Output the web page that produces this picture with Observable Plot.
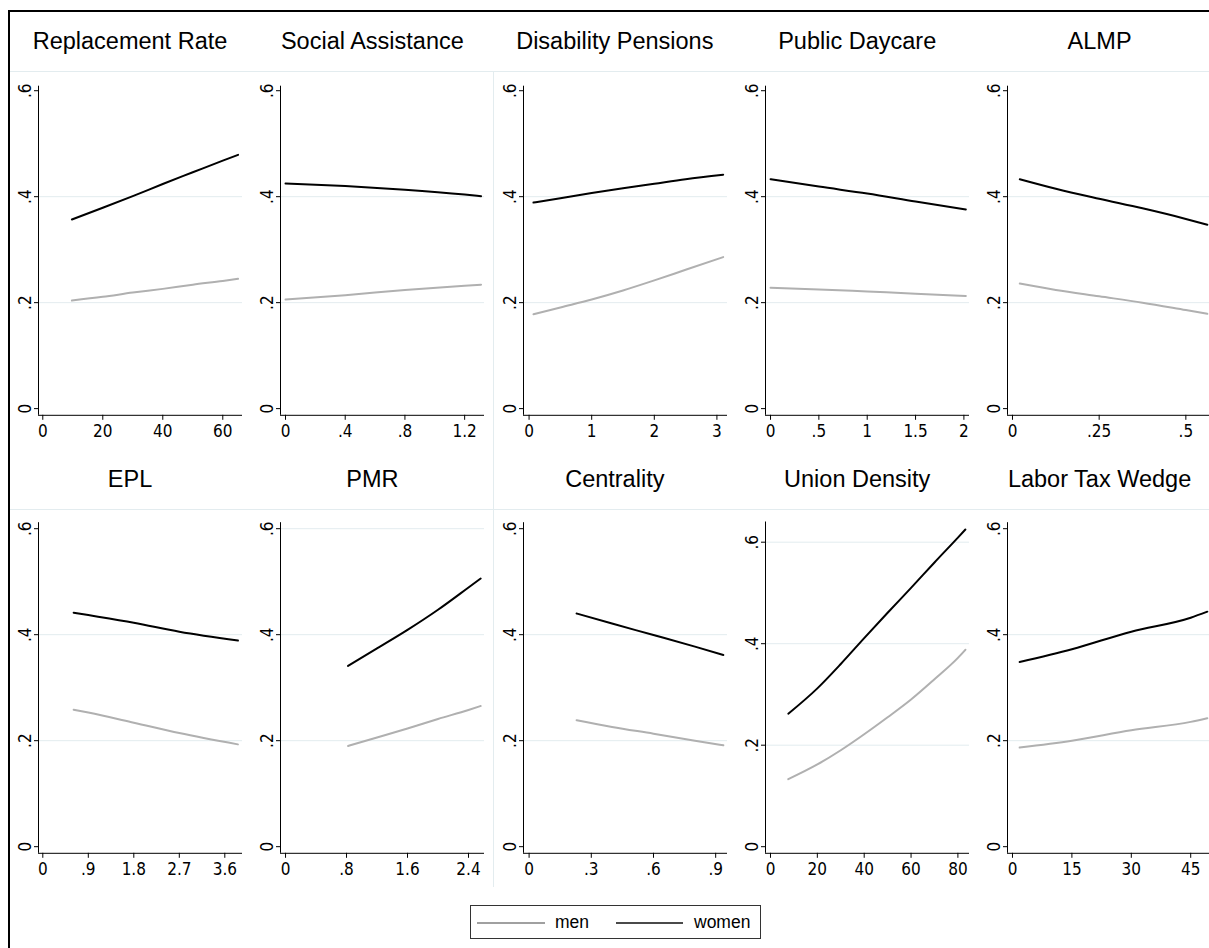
<!DOCTYPE html>
<html><head><meta charset="utf-8">
<script src="https://cdn.jsdelivr.net/npm/d3@7"></script>
<script src="https://cdn.jsdelivr.net/npm/@observablehq/plot@0.6"></script>
<style>
html,body{margin:0;padding:0;background:#fff;}
body{width:1209px;height:948px;overflow:hidden;position:relative;font-family:"Liberation Sans",Arial,sans-serif;}
#frame{position:absolute;left:8px;top:10px;width:1260px;height:1000px;border:2px solid #000;box-sizing:border-box;}
.cell{position:absolute;width:242.4px;height:437px;}
.title{position:absolute;left:0;top:0;width:100%;height:59px;line-height:59px;text-align:center;font-size:23.5px;color:#000;white-space:nowrap;}
.cell svg{position:absolute;left:0;top:60px;}
.hline{position:absolute;left:10px;width:1199px;height:1px;background:#e3ecef;}
.vline{position:absolute;width:1px;background:#e3ecef;}
#legend{position:absolute;left:470px;top:905px;width:291px;height:34px;border:1px solid #333;box-sizing:border-box;background:#fff;}
#legend .sw{position:absolute;height:2px;top:16px;}
#legend .lt{position:absolute;top:0;line-height:32px;font-size:17.5px;color:#000;}
</style>
</head><body>
<div id="frame"></div>
<div id="root"></div>
<div id="legend">
  <div class="sw" style="left:6px;width:68px;background:#a0a0a0"></div>
  <span class="lt" style="left:84px">men</span>
  <div class="sw" style="left:145px;width:67px;background:#4a4a4a"></div>
  <span class="lt" style="left:223px">women</span>
</div>
<script>
// ---- panel titles ----
const panelTitles = ["Replacement Rate", "Social Assistance", "Disability Pensions", "Public Daycare", "ALMP",
                     "EPL", "PMR", "Centrality", "Union Density", "Labor Tax Wedge"];
const seriesNames = ["men", "women"];

// ---- series values (x, women, men) ----
const rrX      = [9.7, 20, 30, 40, 50, 60, 65.1];
const rrWomen  = [0.357, 0.379, 0.401, 0.424, 0.446, 0.468, 0.479];
const rrMen    = [0.204, 0.211, 0.219, 0.226, 0.234, 0.241, 0.245];

const saX      = [0, 0.4, 0.8, 1.2, 1.31];
const saWomen  = [0.425, 0.420, 0.413, 0.404, 0.401];
const saMen    = [0.206, 0.214, 0.224, 0.232, 0.234];

const dpX      = [0.07, 0.5, 1, 1.5, 2, 2.5, 3.1];
const dpWomen  = [0.389, 0.397, 0.407, 0.416, 0.4245, 0.433, 0.4415];
const dpMen    = [0.178, 0.191, 0.206, 0.223, 0.242, 0.262, 0.286];

const pdX      = [0, 0.5, 1, 1.5, 2.02];
const pdWomen  = [0.433, 0.419, 0.406, 0.391, 0.376];
const pdMen    = [0.228, 0.225, 0.221, 0.217, 0.2125];

const almpX     = [0.021, 0.125, 0.25, 0.375, 0.5, 0.562];
const almpWomen = [0.433, 0.415, 0.396, 0.378, 0.358, 0.347];
const almpMen   = [0.236, 0.224, 0.212, 0.200, 0.186, 0.179];

const eplX     = [0.61, 0.9, 1.8, 2.7, 3.86];
const eplWomen = [0.4415, 0.437, 0.4226, 0.4057, 0.389];
const eplMen   = [0.2585, 0.253, 0.234, 0.2145, 0.193];

const pmrX     = [0.82, 1.2, 1.6, 2.0, 2.4, 2.56];
const pmrWomen = [0.341, 0.374, 0.409, 0.447, 0.489, 0.506];
const pmrMen   = [0.190, 0.206, 0.223, 0.241, 0.258, 0.2655];

const cenX     = [0.229, 0.4, 0.6, 0.8, 0.937];
const cenWomen = [0.440, 0.421, 0.3994, 0.3775, 0.3617];
const cenMen   = [0.2385, 0.226, 0.2132, 0.200, 0.1913];

const udX      = [7.6, 20, 30, 40, 50, 60, 70, 80, 83.2];
const udWomen  = [0.262, 0.312, 0.360, 0.411, 0.461, 0.510, 0.560, 0.609, 0.625];
const udMen    = [0.133, 0.162, 0.190, 0.2215, 0.255, 0.290, 0.330, 0.372, 0.388];

const ltX      = [1.8, 15, 30, 45, 49.2];
const ltWomen  = [0.3485, 0.3725, 0.4057, 0.432, 0.4434];
const ltMen    = [0.187, 0.200, 0.2196, 0.2355, 0.2423];

// ---- tick values and tick labels ----
const rrTicks = [0, 20, 40, 60];          const rrLabels = ["0", "20", "40", "60"];
const saTicks = [0, 0.4, 0.8, 1.2];       const saLabels = ["0", ".4", ".8", "1.2"];
const dpTicks = [0, 1, 2, 3];             const dpLabels = ["0", "1", "2", "3"];
const pdTicks = [0, 0.5, 1, 1.5, 2];      const pdLabels = ["0", ".5", "1", "1.5", "2"];
const almpTicks = [0, 0.25, 0.5];         const almpLabels = ["0", ".25", ".5"];
const eplTicks = [0, 0.9, 1.8, 2.7, 3.6]; const eplLabels = ["0", ".9", "1.8", "2.7", "3.6"];
const pmrTicks = [0, 0.8, 1.6, 2.4];      const pmrLabels = ["0", ".8", "1.6", "2.4"];
const cenTicks = [0, 0.3, 0.6, 0.9];      const cenLabels = ["0", ".3", ".6", ".9"];
const udTicks = [0, 20, 40, 60, 80];      const udLabels = ["0", "20", "40", "60", "80"];
const ltTicks = [0, 15, 30, 45];          const ltLabels = ["0", "15", "30", "45"];
const yTicks = [0, 0.2, 0.4, 0.6];        const yLabels = ["0", ".2", ".4", ".6"];

// ---- scale extents (axis ranges) ----
const xDomains = [[-1.43, 66.57], [-0.0335, 1.333], [-0.089, 3.169], [-0.052, 2.058], [-0.0144, 0.574],
                  [-0.085, 3.95], [-0.066, 2.61], [-0.027, 0.957], [-2.13, 84.95], [-1.26, 50.25]];
const yDomainTop = [-0.0126, 0.6085];
const yDomainBottom = [-0.0125, 0.6113];
const yDomainUnion = [-0.013, 0.6398];

const panels = [
  {x: rrX, w: rrWomen, m: rrMen, t: rrTicks, l: rrLabels},
  {x: saX, w: saWomen, m: saMen, t: saTicks, l: saLabels},
  {x: dpX, w: dpWomen, m: dpMen, t: dpTicks, l: dpLabels},
  {x: pdX, w: pdWomen, m: pdMen, t: pdTicks, l: pdLabels},
  {x: almpX, w: almpWomen, m: almpMen, t: almpTicks, l: almpLabels},
  {x: eplX, w: eplWomen, m: eplMen, t: eplTicks, l: eplLabels},
  {x: pmrX, w: pmrWomen, m: pmrMen, t: pmrTicks, l: pmrLabels, grid: [0.2, 0.4, 0.6]},
  {x: cenX, w: cenWomen, m: cenMen, t: cenTicks, l: cenLabels},
  {x: udX, w: udWomen, m: udMen, t: udTicks, l: udLabels, grid: [0.2, 0.4, 0.6], yd: yDomainUnion, mt: 11.5},
  {x: ltX, w: ltWomen, m: ltMen, t: ltTicks, l: ltLabels}
];

const rowTops = [12, 449.5];
const colors = {men: "#b0b0b0", women: "#000000"};
const gridColor = "#e3ecef";
const root = document.getElementById("root");

// faint separators
rowTops.forEach(top => {
  const h = document.createElement("div"); h.className = "hline"; h.style.top = (top + 59) + "px"; root.appendChild(h);
});
const v = document.createElement("div"); v.className = "vline";
v.style.left = "493px"; v.style.top = "71px"; v.style.height = "816px"; root.appendChild(v);

const fmt = (ticks, labels) => { const m = new Map(ticks.map((t, i) => [t, labels[i]])); return d => m.get(d); };

panels.forEach((p, k) => {
  const row = Math.floor(k / 5), col = k % 5;
  const cell = document.createElement("div");
  cell.className = "cell";
  cell.style.left = (8.8 + 242.4 * col) + "px";
  cell.style.top = rowTops[row] + "px";
  const title = document.createElement("div");
  title.className = "title"; title.textContent = panelTitles[k];
  cell.appendChild(title);

  const xd = xDomains[k];
  const yd = p.yd || (row === 0 ? yDomainTop : yDomainBottom);
  const mt = p.mt || (row === 0 ? 13.7 : 12.2);
  const chart = Plot.plot({
    width: 242, height: 377,
    marginLeft: 29, marginRight: 9, marginTop: mt, marginBottom: 34.2,
    style: {fontFamily: '"Liberation Sans Narrow","Arial Narrow","DejaVu Sans Condensed",sans-serif', fontSize: "17px", color: "#000", background: "transparent", overflow: "visible"},
    x: {domain: xd},
    y: {domain: yd},
    marks: [
      Plot.gridY(p.grid || [0.2, 0.4], {stroke: gridColor, strokeOpacity: 1, strokeWidth: 1}),
      Plot.ruleX([xd[0]], {stroke: "#000", strokeWidth: 1}),
      Plot.ruleY([yd[0]], {stroke: "#000", strokeWidth: 1}),
      Plot.axisX(p.t, {tickSize: 5, tickPadding: 5, tickFormat: fmt(p.t, p.l), label: null}),
      Plot.axisY(yTicks, {tickSize: 4, tickRotate: -90, tickPadding: 4, tickFormat: fmt(yTicks, yLabels), label: null}),
      Plot.lineY(p.m, {x: p.x, stroke: colors[seriesNames[0]], strokeWidth: 2, curve: "monotone-x"}),
      Plot.lineY(p.w, {x: p.x, stroke: colors[seriesNames[1]], strokeWidth: 2, curve: "monotone-x"})
    ]
  });
  cell.appendChild(chart);
  root.appendChild(cell);
});
</script>
</body></html>
